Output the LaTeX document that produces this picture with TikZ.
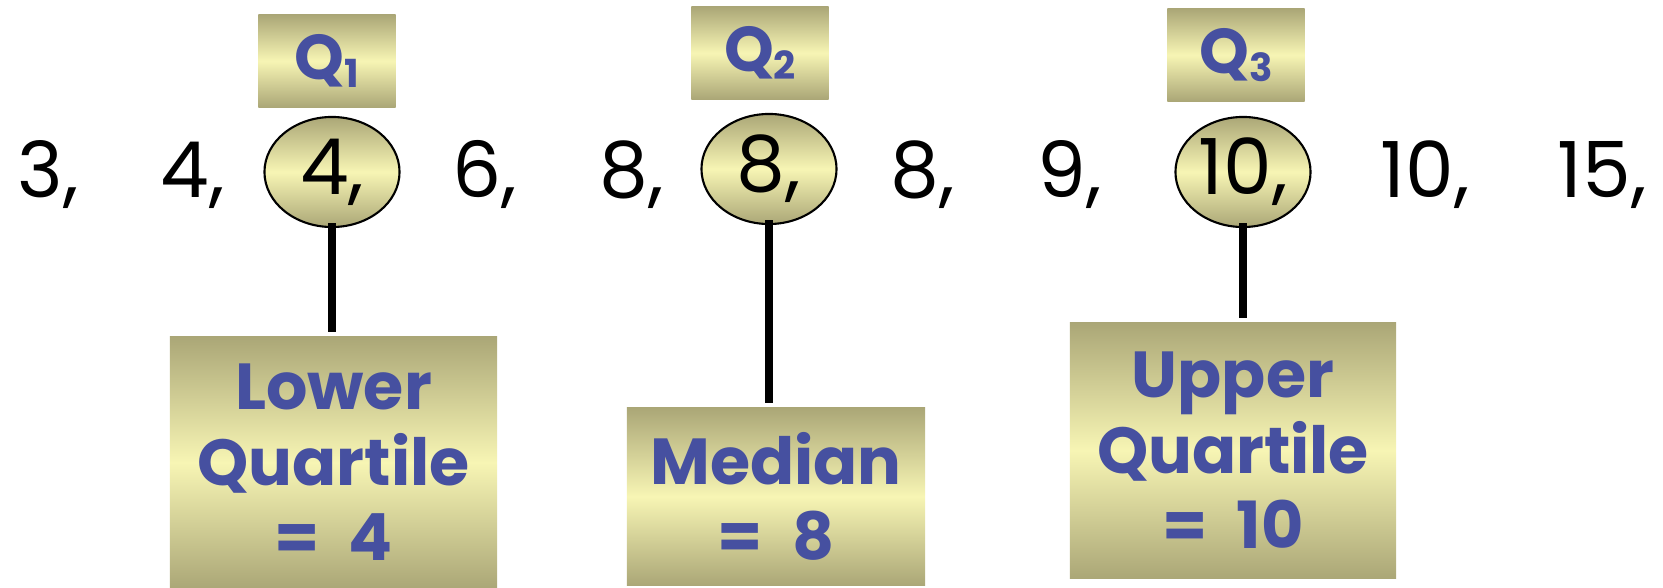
\documentclass[tikz,border=0pt]{standalone}
\usepackage{fontspec}
\setmainfont{Poppins}
\usepackage{tikz}
\usetikzlibrary{shapes.geometric}
\usepackage{xcolor}
\definecolor{boxolive}{HTML}{ABA777}
\definecolor{boxcream}{HTML}{F7F5B4}
\definecolor{labelblue}{HTML}{4650A0}
\newcommand{\numfont}{\fontsize{22}{26}\selectfont}
\newcommand{\lblfont}{\fontsize{18.5}{21.5}\selectfont\bfseries}
\newcommand{\qsub}[1]{{\fontsize{11}{11}\selectfont\raisebox{-2.5pt}{#1}}}
\newcommand{\eqgap}{=\hspace{0.45em}}
\begin{document}
\begin{tikzpicture}[x=0.01cm, y=-0.01cm,
    shadebox/.style={top color=boxolive, bottom color=boxolive, middle color=boxcream,
                     inner sep=0pt, align=center, text=labelblue, font=\lblfont},
    qbox/.style={shadebox, font=\fontsize{18}{20}\selectfont\bfseries,
                 minimum width=1.37cm, minimum height=0.92cm},
    valnum/.style={anchor=base west, font=\numfont, inner sep=0pt},
    pick/.style={ellipse, draw, line width=0.6pt, top color=boxolive, bottom color=boxolive,
                 middle color=boxcream, minimum width=1.35cm, minimum height=1.1cm,
                 inner sep=0pt, font=\numfont},
    stem/.style={line width=2.4pt, shorten <=-0.05cm, shorten >=0.04cm},
  ]
  \useasboundingbox (0,0) rectangle (1663,588);

  \foreach \xpos/\val [count=\i] in {17/3, 160/4, 452/6, 599/8, 890/8, 1037/9, 1380/10, 1557/15}
    \node[valnum] (n\i) at (\xpos,198) {\val,};

  \node[pick] (e1) at (332,172) {4,};
  \node[pick] (e2) at (769,169) {8,};
  \node[pick] (e3) at (1243,172) {10,};

  \node[qbox] (q1) at (327,61) {Q\qsub{1}};
  \node[qbox] (q2) at (760,53) {Q\qsub{2}};
  \node[qbox] (q3) at (1236,55) {Q\qsub{3}};

  \node[shadebox, minimum width=3.27cm, minimum height=2.51cm] (lq) at (333.5,462.5)
    {Lower\\Quartile\\\eqgap 4};
  \node[shadebox, minimum width=2.98cm, minimum height=1.77cm] (med) at (776,496.5)
    {Median\\\eqgap 8};
  \node[shadebox, minimum width=3.26cm, minimum height=2.55cm] (uq) at (1233,450.5)
    {Upper\\Quartile\\\eqgap 10};

  \draw[stem] (e1.south) -- (e1.south |- lq.north);
  \draw[stem] (e2.south) -- (e2.south |- med.north);
  \draw[stem] (e3.south) -- (e3.south |- uq.north);
\end{tikzpicture}
\end{document}
